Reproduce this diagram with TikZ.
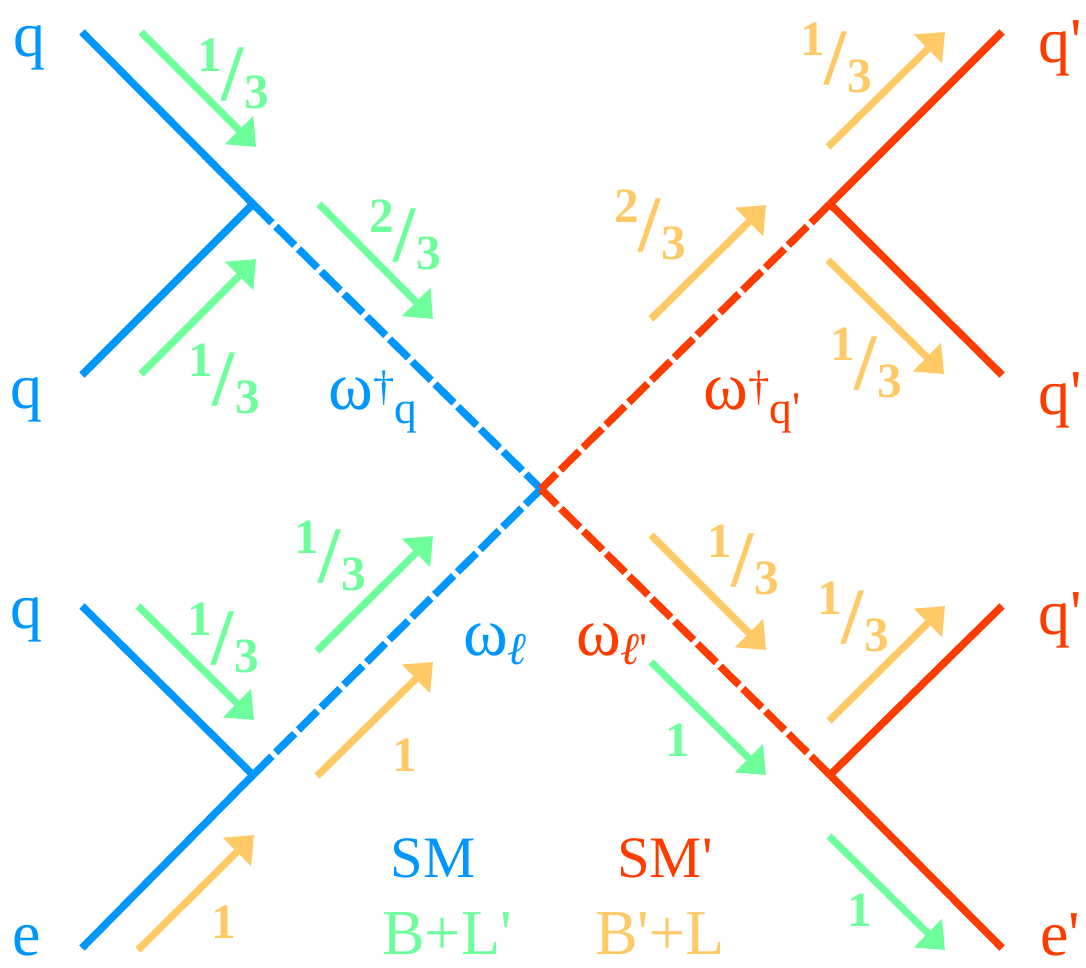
\documentclass[tikz,border=0pt]{standalone}
\usepackage{fontspec}
\setmainfont{Liberation Serif}
\usetikzlibrary{arrows.meta}
\definecolor{smblue}{HTML}{0096FF}
\definecolor{smred}{HTML}{FF3C00}
\definecolor{chgreen}{HTML}{6EFF9C}
\definecolor{chyellow}{HTML}{FFC966}
\newcommand{\primemark}{\textquotesingle}
\newcommand{\slashfrac}[2]{\fontsize{37}{37}\selectfont\raisebox{21.5pt}{\textbf{#1}}{\fontsize{60}{60}\selectfont/}\raisebox{-6.5pt}{\textbf{#2}}}
\newcommand{\supsize}{\fontsize{32}{32}\selectfont}
\newcommand{\subsize}{\fontsize{34}{34}\selectfont}
\tikzset{
    leg/.style={line width=5.6pt},
    mediator/.style={line width=5.6pt, dash pattern=on 20pt off 4pt},
    flow/.style={line width=5.4pt, -{Triangle[length=18pt,width=29pt]}},
    lab/.style={font=\fontsize{48}{48}\selectfont, inner sep=0pt},
    field/.style={font=\fontsize{51}{51}\selectfont, inner sep=0pt},
    theory/.style={font=\fontsize{44}{44}\selectfont, inner sep=0pt},
    charge/.style={font=\bfseries\fontsize{37}{37}\selectfont, inner sep=0pt},
}
\begin{document}
\begin{tikzpicture}[x=0.75pt, y=-0.75pt]
    \useasboundingbox (0,0) rectangle (1086,968);
    % vertices
    \coordinate (mid) at (541,489);
    \coordinate (vtl) at (253,204);
    \coordinate (vbl) at (253,775);
    \coordinate (vtr) at (830,204);
    \coordinate (vbr) at (830,775);
    % outer ends, left then right
    \foreach \nm/\y in {a/32,b/375,c/606,d/948} {
        \coordinate (l\nm) at (82,\y);
        \coordinate (r\nm) at (1002,\y);
    }
    \draw[mediator, smblue] (vtl) -- (mid);
    \draw[mediator, smblue] (vbl) -- (mid);
    \draw[mediator, smred] (vtr) -- (mid);
    \draw[mediator, smred] (vbr) -- (mid);
    \draw[leg, smblue] (la) -- (vtl);
    \draw[leg, smblue] (lb) -- (vtl);
    \draw[leg, smblue] (lc) -- (vbl);
    \draw[leg, smblue] (ld) -- (vbl);
    \draw[leg, smred] (ra) -- (vtr);
    \draw[leg, smred] (rb) -- (vtr);
    \draw[leg, smred] (rc) -- (vbr);
    \draw[leg, smred] (rd) -- (vbr);
    % charge flow arrows
    \foreach \nm/\xa/\ya/\xb/\yb in {g1/141/32/256/147, g2/141/374/256/259, g3/319/204/433/319,
        g4/138/606/254/720, g5/317/651/433/536, g6/651/662/766/775, g7/829/836/945/950} {
        \coordinate (\nm s) at (\xa,\ya);
        \coordinate (\nm t) at (\xb,\yb);
        \draw[flow, chgreen] (\nm s) -- (\nm t);
    }
    \foreach \nm/\xa/\ya/\xb/\yb in {y1/828/147/945/32, y2/651/319/766/205, y3/828/260/944/374,
        y4/317/776/433/662, y5/138/950/254/835, y6/651/535/766/650, y7/829/721/945/606} {
        \coordinate (\nm s) at (\xa,\ya);
        \coordinate (\nm t) at (\xb,\yb);
        \draw[flow, chyellow] (\nm s) -- (\nm t);
    }
    % particle labels
    \node[lab, smblue] (qa) at (29,48) {q};
    \node[lab, smblue] (qb) at (27,400) {q};
    \node[lab, smblue] (qc) at (27,620) {q};
    \node[lab, smblue, anchor=base] (ea) at (27,955) {e};
    \node[lab, smred] (qpa) at (1060,48) {q\primemark};
    \node[lab, smred] (qpb) at (1060,400) {q\primemark};
    \node[lab, smred] (qpc) at (1060,620) {q\primemark};
    \node[lab, smred, anchor=base] (epa) at (1060,955) {e\primemark};
    % mediators
    \node[field, smblue] (omq) at (373,402) {ω\raisebox{7pt}{\supsize †}\raisebox{-10pt}{\subsize q}};
    \node[field, smred] (omqp) at (752,402) {ω\raisebox{7pt}{\supsize †}\raisebox{-10pt}{\subsize q\primemark}};
    \node[field, smblue] (oml) at (495,644) {ω\raisebox{-7pt}{\subsize\itshape ℓ}};
    \node[field, smred] (omlp) at (612,644) {ω\raisebox{-7pt}{\subsize\itshape ℓ\upshape\primemark}};
    % theories
    \node[theory, smblue] (sm) at (433,858) {SM};
    \node[theory, smred] (smp) at (665,858) {SM\primemark};
    \node[lab, chgreen] (bl) at (447,934) {B+L\primemark};
    \node[lab, chyellow] (bpl) at (660,934) {B\primemark+L};
    % charges
    \node[charge, chgreen] (fa) at (233,74) {\slashfrac{1}{3}};
    \node[charge, chgreen] (fb) at (224,379) {\slashfrac{1}{3}};
    \node[charge, chgreen] (fc) at (405,235) {\slashfrac{2}{3}};
    \node[charge, chgreen] (fd) at (330,556) {\slashfrac{1}{3}};
    \node[charge, chgreen] (fe) at (223,638) {\slashfrac{1}{3}};
    \node[charge, chyellow] (ff) at (836,58) {\slashfrac{1}{3}};
    \node[charge, chyellow] (fg) at (650,225) {\slashfrac{2}{3}};
    \node[charge, chyellow] (fh) at (866,363) {\slashfrac{1}{3}};
    \node[charge, chyellow] (fi) at (743,560) {\slashfrac{1}{3}};
    \node[charge, chyellow] (fj) at (853,617) {\slashfrac{1}{3}};
    \node[charge, chyellow] (oa) at (405,755) {1};
    \node[charge, chyellow] (ob) at (224,922) {1};
    \node[charge, chgreen] (oc) at (678,740) {1};
    \node[charge, chgreen] (od) at (860,910) {1};
\end{tikzpicture}
\end{document}
